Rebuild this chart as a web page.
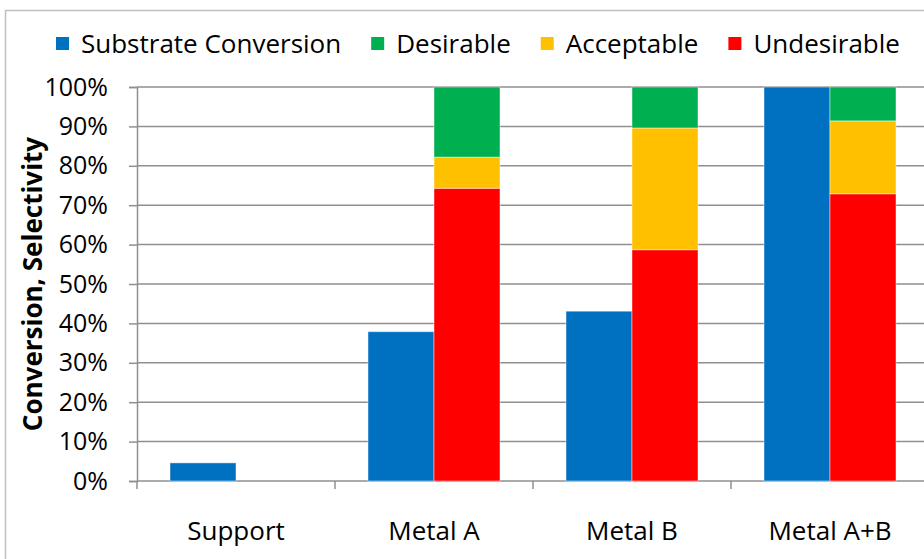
<!DOCTYPE html>
<html>
<head>
<meta charset="utf-8">
<script src="https://cdn.jsdelivr.net/npm/d3@7"></script>
<style>
  html, body { margin: 0; padding: 0; background: #fff; }
  svg { display: block; font-family: "Open Sans", "Noto Sans", sans-serif; }
</style>
</head>
<body>
<div id="chart"></div>
<script>
// Conversion / selectivity by catalyst (%)
const categories = ["Support", "Metal A", "Metal B", "Metal A+B"];
const conversion = [4.6, 37.9, 43.1, 100];
const undesirable = [0, 74.3, 58.7, 72.9];
const acceptable = [0, 7.9, 30.9, 18.5];
const desirable = [0, 17.8, 10.4, 8.6];
const yTicks = [0, 10, 20, 30, 40, 50, 60, 70, 80, 90, 100];
const legendLabels = ["Substrate Conversion", "Desirable", "Acceptable", "Undesirable"];
const legendColors = ["#0070C0", "#00B050", "#FFC000", "#FF0000"];

const width = 924;
const height = 559;
const margin = { top: 87, right: -5, bottom: 78, left: 137 };
const fontSize = 25;

const svg = d3
  .select("#chart")
  .append("svg")
  .attr("width", width)
  .attr("height", height);

// chart frame (only left + top edges visible in the crop)
svg
  .append("rect")
  .attr("x", 5.5)
  .attr("y", 10.5)
  .attr("width", width + 20)
  .attr("height", height + 20)
  .attr("fill", "none")
  .attr("stroke", "#bfbfbf")
  .attr("stroke-width", 1.5);

const x0 = d3
  .scaleBand()
  .domain(categories)
  .range([margin.left, width - margin.right])
  .padding(0);

const x1 = d3
  .scaleBand()
  .domain(["conv", "sel"])
  .range([0, x0.bandwidth()])
  .paddingInner(0)
  .paddingOuter(0.5);

const y = d3
  .scaleLinear()
  .domain([0, 100])
  .range([height - margin.bottom, margin.top]);

// gridlines
svg
  .append("g")
  .selectAll("line")
  .data(yTicks.filter((d) => d > 0))
  .enter()
  .append("line")
  .attr("x1", margin.left)
  .attr("x2", width)
  .attr("y1", (d) => y(d))
  .attr("y2", (d) => y(d))
  .attr("stroke", "#8f8f8f")
  .attr("stroke-width", 1.5);

// y axis
const yAxis = svg
  .append("g")
  .attr("transform", `translate(${margin.left},0)`)
  .call(
    d3
      .axisLeft(y)
      .tickValues(yTicks)
      .tickSize(8)
      .tickPadding(21)
      .tickFormat((d) => d + "%")
  );
yAxis.selectAll("line, path").attr("stroke", "#8f8f8f").attr("stroke-width", 1.5);
yAxis
  .selectAll("text")
  .attr("font-size", fontSize)
  .attr("fill", "#000")
  .attr("font-family", "Open Sans, sans-serif");

// x axis (ticks at category boundaries)
const xAxisG = svg
  .append("g")
  .attr("transform", `translate(0,${y(0)})`);
xAxisG
  .append("line")
  .attr("x1", margin.left)
  .attr("x2", width)
  .attr("stroke", "#8f8f8f")
  .attr("stroke-width", 1.5);
xAxisG
  .selectAll("line.tick")
  .data(categories)
  .enter()
  .append("line")
  .attr("class", "tick")
  .attr("x1", (d) => x0(d))
  .attr("x2", (d) => x0(d))
  .attr("y1", 0)
  .attr("y2", 8)
  .attr("stroke", "#8f8f8f")
  .attr("stroke-width", 1.5);
xAxisG
  .selectAll("text")
  .data(categories)
  .enter()
  .append("text")
  .attr("x", (d) => x0(d) + x0.bandwidth() / 2)
  .attr("y", 59)
  .attr("text-anchor", "middle")
  .attr("font-size", fontSize + 1)
  .attr("fill", "#000")
  .text((d) => d);

// bars
const barsG = svg.append("g");
barsG
  .selectAll("rect.conv")
  .data(categories)
  .enter()
  .append("rect")
  .attr("class", "conv")
  .attr("x", (d) => x0(d) + x1("conv"))
  .attr("width", x1.bandwidth())
  .attr("y", (d, i) => y(conversion[i]))
  .attr("height", (d, i) => y(0) - y(conversion[i]))
  .attr("fill", legendColors[0]);

const stackRows = categories.map((c, i) => ({
  cat: c,
  undesirable: undesirable[i],
  acceptable: acceptable[i],
  desirable: desirable[i],
}));
const stack = d3.stack().keys(["undesirable", "acceptable", "desirable"])(stackRows);
const stackColors = { undesirable: "#FF0000", acceptable: "#FFC000", desirable: "#00B050" };

barsG
  .selectAll("g.layer")
  .data(stack)
  .enter()
  .append("g")
  .attr("class", "layer")
  .attr("fill", (d) => stackColors[d.key])
  .selectAll("rect")
  .data((d) => d.filter((p) => p[1] - p[0] > 0))
  .enter()
  .append("rect")
  .attr("x", (d) => x0(d.data.cat) + x1("sel"))
  .attr("width", x1.bandwidth())
  .attr("y", (d) => y(d[1]))
  .attr("height", (d) => y(d[0]) - y(d[1]));

barsG.selectAll("rect").attr("stroke", "rgba(255,255,255,0.45)").attr("stroke-width", 1);

// y axis title
svg
  .append("text")
  .attr("transform", `translate(42,${(y(0) + y(100)) / 2}) rotate(-90)`)
  .attr("text-anchor", "middle")
  .attr("font-size", fontSize + 1)
  .attr("font-weight", "bold")
  .attr("fill", "#000")
  .text("Conversion, Selectivity");

// legend laid out left to right
const legend = svg.append("g").attr("transform", "translate(56,44)");
let lx = 0;
legendLabels.forEach((label, i) => {
  const item = legend.append("g").attr("transform", `translate(${lx},0)`);
  item
    .append("rect")
    .attr("x", 0)
    .attr("y", -7)
    .attr("width", 13)
    .attr("height", 13)
    .attr("fill", legendColors[i]);
  const t = item
    .append("text")
    .attr("x", 25)
    .attr("y", 9)
    .attr("font-size", fontSize + 1)
    .attr("fill", "#000")
    .text(label);
  lx += 25 + t.node().getComputedTextLength() + 30;
});
</script>
</body>
</html>
